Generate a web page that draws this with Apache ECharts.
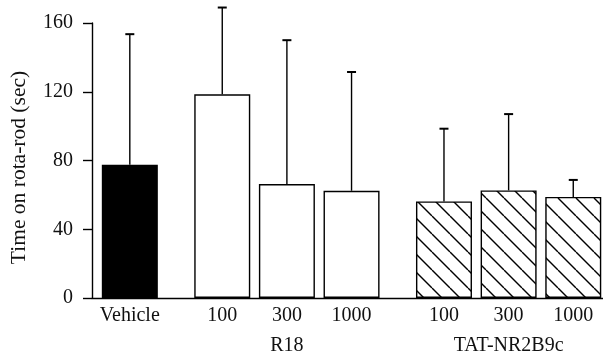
<!DOCTYPE html>
<html>
<head>
<meta charset="utf-8">
<script src="https://cdn.jsdelivr.net/npm/echarts@6/dist/echarts.min.js"></script>
<style>
  html, body { margin: 0; padding: 0; background: #fff; }
  #main { width: 603px; height: 362px; }
</style>
</head>
<body>
<div id="main"></div>
<script>
// bar labels and which group each bar belongs to
var categories = ["Vehicle", "100", "300", "1000", "100", "300", "1000"];
var groupOf = [0, 1, 1, 1, 2, 2, 2];
var groupNames = ["", "R18", "TAT-NR2B9c"];
// mean time and top of error bar (sec)
var means = [77.5, 118.5, 66.3, 62.4, 56.2, 62.6, 58.8];
var errTop = [153.5, 169, 150, 131.5, 98.5, 107, 68.7];
var yTicks = [0, 40, 80, 120, 160];

var GAP = 0.43; // extra space between groups, in bar slots
var FONT = "'Liberation Serif', 'Times New Roman', serif";
var X_MIN = -0.585, X_MAX = 7.32;

var positions = categories.map(function (c, i) {
  return i + groupOf[i] * GAP;
});

// centre of each named group
var groupCenters = [];
var groupLabels = [];
groupNames.forEach(function (g, gi) {
  if (!g) return;
  var ps = positions.filter(function (p, i) { return groupOf[i] === gi; });
  groupCenters.push((ps[0] + ps[ps.length - 1]) / 2);
  groupLabels.push(g);
});

function lookup(list, labels, v) {
  for (var i = 0; i < list.length; i++) {
    if (Math.abs(list[i] - v) < 1e-6) return labels[i];
  }
  return "";
}

// diagonal hatch for TAT-NR2B9c
function hatch() {
  var s = 18;
  var cv = document.createElement("canvas");
  cv.width = s;
  cv.height = s;
  var ctx = cv.getContext("2d");
  ctx.fillStyle = "#fff";
  ctx.fillRect(0, 0, s, s);
  ctx.strokeStyle = "#000";
  ctx.lineWidth = 1.4;
  [-s, 0, s].forEach(function (o) {
    ctx.beginPath();
    ctx.moveTo(o, 0);
    ctx.lineTo(o + s, s);
    ctx.stroke();
  });
  return cv;
}
var hatchImg = hatch();

var barData = means.map(function (m, i) {
  var fill = "#fff";
  if (groupOf[i] === 0) fill = "#000";
  if (groupOf[i] === 2) fill = { image: hatchImg, repeat: "repeat" };
  return {
    value: [positions[i], m],
    itemStyle: { color: fill }
  };
});

var errData = means.map(function (m, i) {
  return [positions[i], m, errTop[i]];
});

var chart = echarts.init(document.getElementById("main"), null, { renderer: "canvas" });

var option = {
  animation: false,
  backgroundColor: "#fff",
  textStyle: { fontFamily: FONT },
  grid: { left: 89, right: 0, top: 23, bottom: 64, containLabel: false },
  xAxis: [
    {
      type: "value",
      min: X_MIN,
      max: X_MAX,
      splitLine: { show: false },
      axisLine: { show: true, onZero: false, lineStyle: { color: "#000", width: 1.4 } },
      axisTick: { show: false },
      axisLabel: {
        customValues: positions,
        margin: 8,
        color: "#111",
        fontSize: 20,
        fontFamily: FONT,
        formatter: function (v) { return lookup(positions, categories, v); }
      }
    },
    {
      type: "value",
      position: "bottom",
      min: X_MIN,
      max: X_MAX,
      splitLine: { show: false },
      axisLine: { show: false, onZero: false },
      axisTick: { show: false },
      axisLabel: {
        customValues: groupCenters,
        margin: 38,
        color: "#111",
        fontSize: 20,
        fontFamily: FONT,
        formatter: function (v) { return lookup(groupCenters, groupLabels, v); }
      }
    }
  ],
  yAxis: {
    type: "value",
    min: yTicks[0],
    max: yTicks[yTicks.length - 1],
    interval: 40,
    name: "Time on rota-rod (sec)",
    nameLocation: "middle",
    nameGap: 62,
    nameTextStyle: { color: "#111", fontSize: 21.5, fontFamily: FONT, padding: [0, 14, 0, 0] },
    splitLine: { show: false },
    axisLine: { show: true, onZero: false, lineStyle: { color: "#000", width: 1.4 } },
    axisTick: { show: true, inside: false, length: 9, lineStyle: { color: "#000", width: 1.4 } },
    axisLabel: { margin: 19, color: "#111", fontSize: 20, fontFamily: FONT }
  },
  series: [
    {
      type: "bar",
      xAxisIndex: 0,
      barWidth: 56,
      data: barData,
      itemStyle: { borderColor: "#000", borderWidth: 1.4 },
      z: 2
    },
    {
      type: "custom",
      xAxisIndex: 0,
      data: errData,
      clip: false,
      z: 3,
      renderItem: function (params, api) {
        var x = api.value(0);
        var p0 = api.coord([x, api.value(1)]);
        var p1 = api.coord([x, api.value(2)]);
        var style = { stroke: "#000", lineWidth: 1.4 };
        return {
          type: "group",
          children: [
            { type: "line", shape: { x1: p0[0], y1: p0[1], x2: p1[0], y2: p1[1] }, style: style },
            { type: "line", shape: { x1: p1[0] - 4.5, y1: p1[1], x2: p1[0] + 4.5, y2: p1[1] }, style: { stroke: "#000", lineWidth: 2 } }
          ]
        };
      }
    }
  ]
};

chart.setOption(option);
</script>
</body>
</html>
